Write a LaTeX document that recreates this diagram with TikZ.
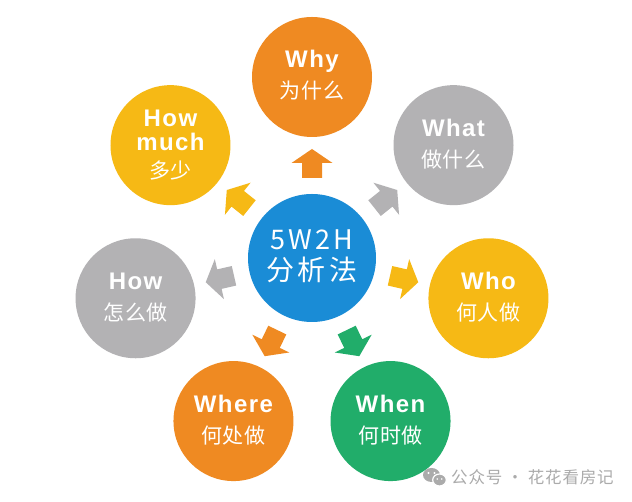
\documentclass[tikz,border=0pt]{standalone}
\usepackage{fontspec}
\setmainfont{Liberation Sans}
\newfontfamily\enfont[LetterSpace=6]{Liberation Sans}
\newfontfamily\cnfont[LetterSpace=4]{Noto Sans CJK SC}
\newfontfamily\cnbig[LetterSpace=12]{Noto Sans CJK SC}
\newfontfamily\cnmark[LetterSpace=5]{Noto Sans CJK SC}
\definecolor{corange}{HTML}{EF8A22}
\definecolor{cgray}{HTML}{B3B2B4}
\definecolor{cyellow}{HTML}{F6B915}
\definecolor{cgreen}{HTML}{21AD6A}
\definecolor{cblue}{HTML}{1A8CD6}
\definecolor{cmark}{HTML}{ABABAB}
\begin{document}
\begin{tikzpicture}[x=1pt,y=1pt,
  ball/.style={circle, inner sep=0pt, minimum size=120pt},
  en/.style={font=\enfont\bfseries\fontsize{24}{24}\selectfont, text=white, anchor=base, inner sep=0pt},
  cn/.style={font=\cnfont\fontsize{21}{21}\selectfont, text=white, inner sep=0pt},
  blockarrow/.style={draw=none}]
\useasboundingbox (0,0) rectangle (632,502);
\fill[white] (0,0) rectangle (632,502);
\coordinate (C) at (312,244);
% arrows
\foreach \a/\c in {90/corange, 38.571/cgray, -12.857/cyellow, -64.286/cgreen, -115.714/corange, -167.143/cgray, 141.429/cyellow}{
  \fill[\c, shift={(C)}, rotate=\a] (80,-10) -- (95,-10) -- (95,-20.5) -- (109,0) -- (95,20.5) -- (95,10) -- (80,10) -- cycle;
}
% circles
\node[ball, fill=cblue, minimum size=128pt] (mid) at (C) {};
\path (C) ++(90:181) node[ball, fill=corange] (why) {};
\path (C) ++(38.571:181) node[ball, fill=cgray] (what) {};
\path (C) ++(-12.857:181) node[ball, fill=cyellow] (who) {};
\path (C) ++(-64.286:181) node[ball, fill=cgreen] (when) {};
\path (C) ++(-115.714:181) node[ball, fill=corange] (where) {};
\path (C) ++(-167.143:181) node[ball, fill=cgray] (how) {};
\path (C) ++(141.429:181) node[ball, fill=cyellow] (howmuch) {};
% center text
\node[anchor=base, inner sep=0pt, text=white, font=\cnbig\fontsize{27}{27}\selectfont] (t5w) at ([yshift=8pt]mid.center) {5W2H};
\node[inner sep=0pt, text=white, font=\cnbig\fontsize{28}{28}\selectfont] (tfx) at ([yshift=-12pt]mid.center) {分析法};
% labels
\node[en] (twhy) at ([yshift=9pt]why.center) {Why};
\node[cn] (cwhy) at ([yshift=-14pt]why.center) {为什么};
\node[en] (twhat) at ([yshift=9pt]what.center) {What};
\node[cn] (cwhat) at ([yshift=-14pt]what.center) {做什么};
\node[en] (twho) at ([yshift=9pt]who.center) {Who};
\node[cn] (cwho) at ([yshift=-14pt]who.center) {何人做};
\node[en] (twhen) at ([yshift=9pt]when.center) {When};
\node[cn] (cwhen) at ([yshift=-14pt]when.center) {何时做};
\node[en] (twhere) at ([yshift=9pt]where.center) {Where};
\node[cn] (cwhere) at ([yshift=-14pt]where.center) {何处做};
\node[en] (thow) at ([yshift=9pt]how.center) {How};
\node[cn] (chow) at ([yshift=-14pt]how.center) {怎么做};
\node[en] (thm1) at ([yshift=19pt]howmuch.center) {How};
\node[en] (thm2) at ([yshift=-5pt]howmuch.center) {much};
\node[cn] (chm) at ([yshift=-25pt]howmuch.center) {多少};
% watermark
\fill[cmark] (431.5,27) ellipse [x radius=8.5, y radius=7];
\fill[white] (428.5,29) circle (1.1) (434.5,29) circle (1.1);
\filldraw[fill=cmark, draw=white, line width=1.2pt] (439.5,22) ellipse [x radius=6.8, y radius=6];
\fill[white] (437.3,23) circle (0.9) (441.7,23) circle (0.9);
\node[anchor=west, inner sep=0pt, text=cmark, font=\cnmark\fontsize{16.5}{16.5}\selectfont] (mark) at (451,25) {公众号 · 花花看房记};
\end{tikzpicture}
\end{document}
